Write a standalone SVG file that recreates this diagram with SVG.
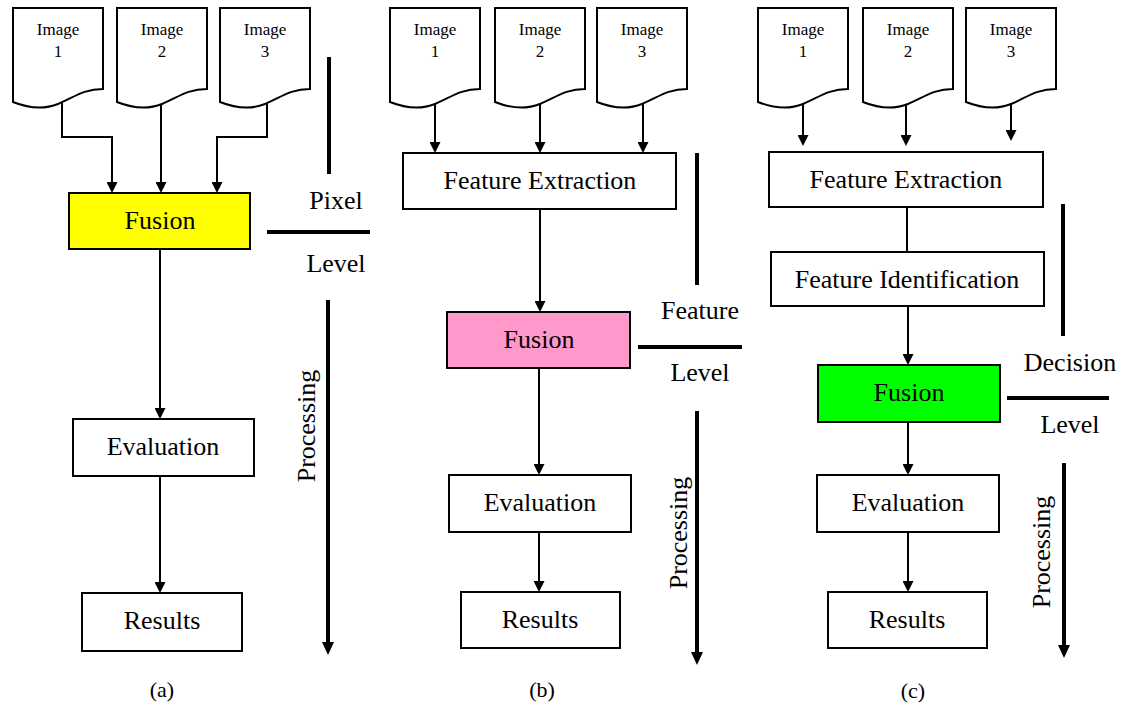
<svg xmlns="http://www.w3.org/2000/svg" width="1132" height="707" viewBox="0 0 1132 707" font-family="Liberation Serif, Tinos, DejaVu Serif, serif">
  <defs>
    <style>
      text { fill: #000; text-anchor: middle; }
      .lbl { font-size: 26px; }
      .img { font-size: 17px; }
      .cap { font-size: 22px; }
      .box { stroke: #000; stroke-width: 2; fill: #fff; }
      .doc { stroke: #000; stroke-width: 2; fill: #fff; stroke-linejoin: miter; }
      .wire { stroke: #000; stroke-width: 2; fill: none; }
      .arr { stroke: #000; stroke-width: 2; fill: none; marker-end: url(#ah); }
      .bar { stroke: #000; stroke-width: 4; fill: none; }
      .parr { stroke: #000; stroke-width: 4; fill: none; marker-end: url(#ahBig); }
    </style>
    <marker id="ah" markerUnits="userSpaceOnUse" markerWidth="11" markerHeight="11" viewBox="0 0 11 11" refX="8" refY="5.5" orient="auto">
      <path d="M0,0 L11,5.5 L0,11 Z" fill="#000"/>
    </marker>
    <marker id="ahBig" markerUnits="userSpaceOnUse" markerWidth="13" markerHeight="12" viewBox="0 0 13 12" refX="9" refY="6" orient="auto">
      <path d="M0,0 L13,6 L0,12 Z" fill="#000"/>
    </marker>
  </defs>

  <rect width="1132" height="707" fill="#fff"/>

  <!-- ===== Panel (a): pixel level ===== -->
  <g id="a-image1">
    <path class="doc" d="M13,8 H103 V89 C83,89 73,98 58,104 C43,110 28,108 13,102 Z"/>
    <text class="img" x="58" y="35">Image</text>
    <text class="img" x="58" y="57">1</text>
  </g>
  <g id="a-image2">
    <path class="doc" d="M117,8 H207 V89 C187,89 177,98 162,104 C147,110 132,108 117,102 Z"/>
    <text class="img" x="162" y="35">Image</text>
    <text class="img" x="162" y="57">2</text>
  </g>
  <g id="a-image3">
    <path class="doc" d="M220,8 H310 V89 C290,89 280,98 265,104 C250,110 235,108 220,102 Z"/>
    <text class="img" x="265" y="35">Image</text>
    <text class="img" x="265" y="57">3</text>
  </g>
  <g id="a-fusion">
    <rect class="box" x="69" y="193" width="181" height="56" style="fill:#ffff00"/>
    <text class="lbl" x="160" y="229">Fusion</text>
  </g>
  <g id="a-evaluation">
    <rect class="box" x="73" y="419" width="181" height="57"/>
    <text class="lbl" x="163" y="455">Evaluation</text>
  </g>
  <g id="a-results">
    <rect class="box" x="82" y="593" width="160" height="58"/>
    <text class="lbl" x="162" y="629">Results</text>
  </g>
  <g id="a-level">
    <line class="bar" x1="329" y1="57" x2="329" y2="174"/>
    <text class="lbl" x="336" y="209">Pixel</text>
    <line class="bar" x1="267" y1="232" x2="370" y2="232"/>
    <text class="lbl" x="336" y="272">Level</text>
    <line class="parr" x1="328" y1="300" x2="328" y2="651"/>
    <text class="lbl" transform="translate(315,426) rotate(-90)">Processing</text>
  </g>
  <text class="cap" x="162" y="697">(a)</text>

  <!-- ===== Panel (b): feature level ===== -->
  <g id="b-image1">
    <path class="doc" d="M390,8 H480 V89 C460,89 450,98 435,104 C420,110 405,108 390,102 Z"/>
    <text class="img" x="435" y="35">Image</text>
    <text class="img" x="435" y="57">1</text>
  </g>
  <g id="b-image2">
    <path class="doc" d="M495,8 H585 V89 C565,89 555,98 540,104 C525,110 510,108 495,102 Z"/>
    <text class="img" x="540" y="35">Image</text>
    <text class="img" x="540" y="57">2</text>
  </g>
  <g id="b-image3">
    <path class="doc" d="M597,8 H687 V89 C667,89 657,98 642,104 C627,110 612,108 597,102 Z"/>
    <text class="img" x="642" y="35">Image</text>
    <text class="img" x="642" y="57">3</text>
  </g>
  <g id="b-extraction">
    <rect class="box" x="403" y="153" width="273" height="56"/>
    <text class="lbl" x="540" y="189">Feature Extraction</text>
  </g>
  <g id="b-fusion">
    <rect class="box" x="447" y="312" width="183" height="56" style="fill:#ff99cc"/>
    <text class="lbl" x="539" y="348">Fusion</text>
  </g>
  <g id="b-evaluation">
    <rect class="box" x="449" y="475" width="182" height="57"/>
    <text class="lbl" x="540" y="511">Evaluation</text>
  </g>
  <g id="b-results">
    <rect class="box" x="461" y="592" width="159" height="56"/>
    <text class="lbl" x="540" y="628">Results</text>
  </g>
  <g id="b-level">
    <line class="bar" x1="697" y1="153" x2="697" y2="285"/>
    <text class="lbl" x="700" y="319">Feature</text>
    <line class="bar" x1="638" y1="347" x2="742" y2="347"/>
    <text class="lbl" x="700" y="381">Level</text>
    <line class="parr" x1="697" y1="411" x2="697" y2="661"/>
    <text class="lbl" transform="translate(687,533) rotate(-90)">Processing</text>
  </g>
  <text class="cap" x="542" y="697">(b)</text>

  <!-- ===== Panel (c): decision level ===== -->
  <g id="c-image1">
    <path class="doc" d="M758,8 H848 V89 C828,89 818,98 803,104 C788,110 773,108 758,102 Z"/>
    <text class="img" x="803" y="35">Image</text>
    <text class="img" x="803" y="57">1</text>
  </g>
  <g id="c-image2">
    <path class="doc" d="M863,8 H953 V89 C933,89 923,98 908,104 C893,110 878,108 863,102 Z"/>
    <text class="img" x="908" y="35">Image</text>
    <text class="img" x="908" y="57">2</text>
  </g>
  <g id="c-image3">
    <path class="doc" d="M966,8 H1056 V89 C1036,89 1026,98 1011,104 C996,110 981,108 966,102 Z"/>
    <text class="img" x="1011" y="35">Image</text>
    <text class="img" x="1011" y="57">3</text>
  </g>
  <g id="c-extraction">
    <rect class="box" x="769" y="152" width="274" height="55"/>
    <text class="lbl" x="906" y="188">Feature Extraction</text>
  </g>
  <g id="c-identification">
    <rect class="box" x="771" y="252" width="273" height="54"/>
    <text class="lbl" x="907" y="288">Feature Identification</text>
  </g>
  <g id="c-fusion">
    <rect class="box" x="818" y="365" width="182" height="57" style="fill:#00ff00"/>
    <text class="lbl" x="909" y="401">Fusion</text>
  </g>
  <g id="c-evaluation">
    <rect class="box" x="817" y="475" width="182" height="57"/>
    <text class="lbl" x="908" y="511">Evaluation</text>
  </g>
  <g id="c-results">
    <rect class="box" x="828" y="592" width="159" height="56"/>
    <text class="lbl" x="907" y="628">Results</text>
  </g>
  <g id="c-level">
    <line class="bar" x1="1063" y1="204" x2="1063" y2="336"/>
    <text class="lbl" x="1070" y="371">Decision</text>
    <line class="bar" x1="1007" y1="398" x2="1109" y2="398"/>
    <text class="lbl" x="1070" y="433">Level</text>
    <line class="parr" x1="1064" y1="463" x2="1064" y2="654"/>
    <text class="lbl" transform="translate(1050,552) rotate(-90)">Processing</text>
  </g>
  <text class="cap" x="913" y="698">(c)</text>

  <!-- ===== Connectors ===== -->
  <g id="connectors">
    <!-- (a) -->
    <polyline class="arr" points="62,103 62,137 112,137 112,190"/>
    <line class="arr" x1="161" y1="105" x2="161" y2="190"/>
    <polyline class="arr" points="267,103 267,137 217,137 217,190"/>
    <line class="arr" x1="160" y1="249" x2="160" y2="416"/>
    <line class="arr" x1="160" y1="476" x2="160" y2="590"/>
    <!-- (b) -->
    <line class="arr" x1="435" y1="104" x2="435" y2="150"/>
    <line class="arr" x1="540" y1="104" x2="540" y2="150"/>
    <line class="arr" x1="643" y1="103" x2="643" y2="150"/>
    <line class="arr" x1="540" y1="209" x2="540" y2="309"/>
    <line class="arr" x1="539" y1="368" x2="539" y2="472"/>
    <line class="arr" x1="539" y1="532" x2="539" y2="589"/>
    <!-- (c) -->
    <line class="arr" x1="803" y1="104" x2="803" y2="143"/>
    <line class="arr" x1="906" y1="104" x2="906" y2="143"/>
    <line class="arr" x1="1011" y1="103" x2="1011" y2="138"/>
    <line class="wire" x1="907" y1="207" x2="907" y2="252"/>
    <line class="arr" x1="908" y1="306" x2="908" y2="362"/>
    <line class="arr" x1="908" y1="422" x2="908" y2="472"/>
    <line class="arr" x1="908" y1="532" x2="908" y2="589"/>
  </g>
</svg>
